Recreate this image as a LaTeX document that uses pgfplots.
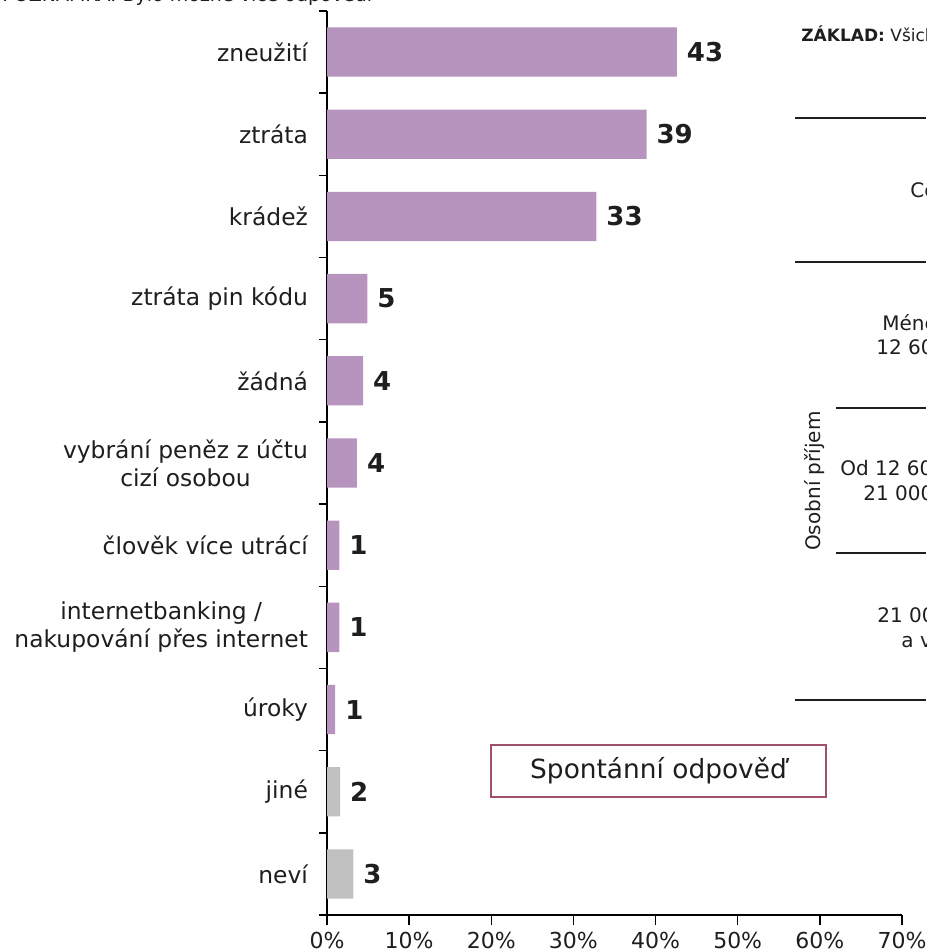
\documentclass[border=0pt]{standalone}
\usepackage{pgfplots}
\pgfplotsset{compat=1.18}
\usepackage{fontspec}
\setmainfont{DejaVu Sans}
\definecolor{barpurple}{RGB}{183,148,190}
\definecolor{bargrey}{RGB}{192,192,192}
\definecolor{boxred}{RGB}{160,80,110}
\definecolor{txt}{RGB}{30,30,30}
\begin{document}
\begin{tikzpicture}
\useasboundingbox (0,0) rectangle (463pt,-476pt);
\begin{axis}[
  at={(163.5pt,-457.5pt)}, anchor=south west,
  scale only axis, width=287.5pt, height=452pt,
  xmin=0, xmax=70, ymin=-0.5, ymax=10.5,
  axis x line*=bottom, axis y line*=left,
  axis line style={black, line width=0.7pt},
  xbar, bar width=0.6, bar shift=0pt,
  /pgf/number format/assume math mode=true,
  xtick={0,10,...,70},
  xticklabel={\pgfmathprintnumber{\tick}\%},
  x tick label style={font=\fontsize{11}{11}\selectfont, text=txt},
  ytick={0,...,10},
  yticklabels={nev\'i, jin\'e, \'uroky, {internetbanking /\\nakupov\'an\'i p\v{r}es internet}, \v{c}lov\v{e}k v\'ice utr\'ac\'i, {vybr\'an\'i pen\v{e}z z \'u\v{c}tu\\ciz\'i osobou}, \v{z}\'adn\'a, ztr\'ata pin k\'odu, kr\'ade\v{z}, ztr\'ata, zneu\v{z}it\'i},
  y tick label style={font=\fontsize{11.7}{14}\selectfont, text=txt, align=center, xshift=-1pt},
  minor ytick={-0.5,0.5,...,10.5},
  tick align=outside,
  major tick length=5pt, minor tick length=4pt,
  major y tick style={draw=none},
  tick style={black, line width=0.7pt},
  point meta=explicit,
  nodes near coords,
  nodes near coords style={font=\bfseries\fontsize{13}{13}\selectfont, text=txt, anchor=west, xshift=1.5pt},
  clip=false,
]
\addplot[fill=barpurple, draw=none] coordinates {
 (1.0,2) [1]
 (1.5,3) [1]
 (1.5,4) [1]
 (3.65,5) [4]
 (4.4,6) [4]
 (4.9,7) [5]
 (32.8,8) [33]
 (38.9,9) [39]
 (42.6,10) [43]
};
\addplot[fill=bargrey, draw=none] coordinates {
 (3.2,0) [3]
 (1.6,1) [2]
};
\end{axis}
\begin{scope}[x=0.5pt,y=-0.5pt]
\clip (0,0) rectangle (926,952);
\draw[black, line width=0.7pt] (320,915) -- (327,915);
\node[anchor=base west, inner sep=0pt, font=\fontsize{9.5}{9.5}\selectfont, text=txt] at (2,1.5) {POZN\'AMKA: Bylo mo\v{z}n\'e v\'ice odpov\v{e}d\'i};
\node[anchor=west, inner sep=0pt, font=\fontsize{8.5}{8.5}\selectfont, text=txt] at (801,35) {\textbf{Z\'AKLAD:} V\v{s}ichni respondenti};
\draw[line width=0.6pt, txt] (795,118) -- (926,118);
\draw[line width=0.6pt, txt] (795,262) -- (926,262);
\draw[line width=0.6pt, txt] (836,408) -- (926,408);
\draw[line width=0.6pt, txt] (836,553) -- (926,553);
\draw[line width=0.6pt, txt] (795,700) -- (926,700);
\begin{scope}[every node/.style={anchor=west, inner sep=0pt, font=\fontsize{10}{10}\selectfont, text=txt}]
\node at (910,190) {Celkem};
\node at (882,323) {M\'en\v{e} ne\v{z}};
\node at (876,347) {12 600 K\v{c}};
\node at (840,468) {Od 12 600 do};
\node at (863,493) {21 000 K\v{c}};
\node at (877,615) {21 000 K\v{c}};
\node at (901,640) {a v\'ice};
\end{scope}
\node[rotate=90, inner sep=0pt, font=\fontsize{10}{10}\selectfont, text=txt] at (815,481) {Osobn\'i p\v{r}\'ijem};
\draw[boxred, line width=0.8pt, fill=white] (491,745) rectangle (826,797);
\node[font=\fontsize{13.2}{13.2}\selectfont, text=txt] at (658.5,771) {Spont\'ann\'i odpov\v{e}\v{d}};
\end{scope}
\end{tikzpicture}
\end{document}
